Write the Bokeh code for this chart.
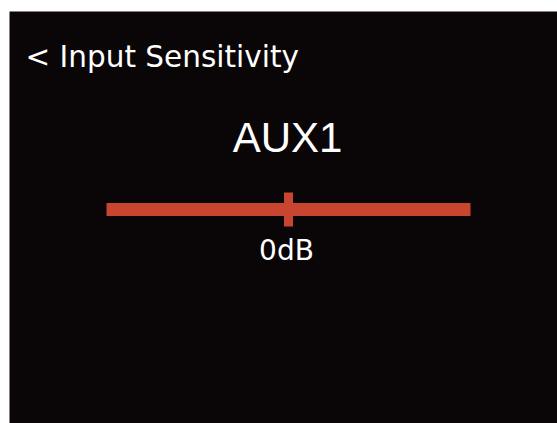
from bokeh.plotting import figure
from bokeh.models import Range1d
from bokeh.core.properties import value
from bokeh.embed import file_html
from bokeh.resources import INLINE

# Data
screen_title = "< Input Sensitivity"
source_name = "AUX1"
slider_min = -12
slider_max = 12
slider_value = 0
value_label = "0dB"

# Layout (frame pixels)
FW, FH = 548, 412
bar_left_px, bar_right_px = 97, 461
scale = (bar_right_px - bar_left_px) / (slider_max - slider_min)
x0 = slider_min - bar_left_px / scale
x1 = x0 + FW / scale

def px(xp):
    return x0 + xp / scale

p = figure(width=557, height=423, output_backend="svg", toolbar_location=None,
           x_range=Range1d(x0, x1), y_range=Range1d(FH, 0),
           min_border_left=9, min_border_top=11, min_border_right=0, min_border_bottom=0)
p.background_fill_color = "#0a0506"
p.border_fill_color = "white"
p.outline_line_color = None
p.axis.visible = False
p.grid.visible = False

bar_color = "#c8462f"
p.hbar(y=[198], left=[slider_min], right=[slider_max], height=13,
       fill_color=bar_color, line_color=None)
p.rect(x=[slider_value], y=[198], width=9, width_units="screen", height=34,
       fill_color=bar_color, line_color=None)

p.text(x=[px(16)], y=[45], text=[screen_title], text_font=value("DejaVu Sans"),
       text_font_size="29.5px", text_color="white", text_baseline="alphabetic",
       text_align="left")
p.text(x=[px(278)], y=[126], text=[source_name], text_font=value("Liberation Sans"),
       text_font_size="42px", text_color="white", text_baseline="alphabetic",
       text_align="center")
p.text(x=[px(277)], y=[239], text=[value_label], text_font=value("DejaVu Sans"),
       text_font_size="28px", text_color="white", text_baseline="alphabetic",
       text_align="center")

open("out.html", "w").write(file_html(p, INLINE))
